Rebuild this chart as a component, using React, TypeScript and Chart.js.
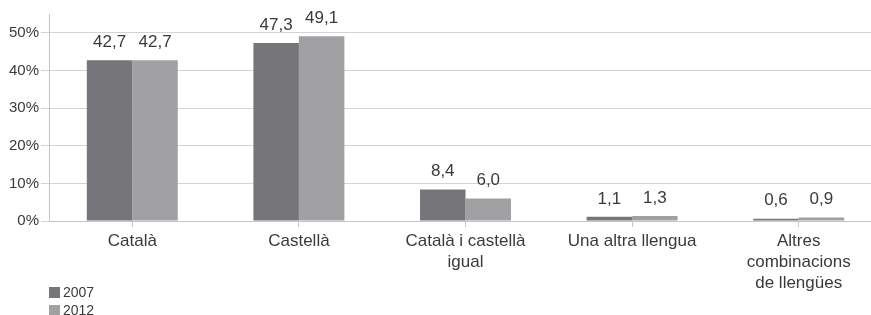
import React, { useEffect, useRef } from "react";
import { Chart, registerables } from "chart.js";

Chart.register(...registerables);

const categories: string[][] = [
  ["Català"],
  ["Castellà"],
  ["Català i castellà", "igual"],
  ["Una altra llengua"],
  ["Altres", "combinacions", "de llengües"],
];
const series2007: number[] = [42.7, 47.3, 8.4, 1.1, 0.6];
const series2012: number[] = [42.7, 49.1, 6.0, 1.3, 0.9];
const seriesNames: string[] = ["2007", "2012"];
const colors: string[] = ["#75757a", "#a1a1a4"];
const yTicks: number[] = [0, 10, 20, 30, 40, 50];

const FONT = "'Liberation Sans', Arial, sans-serif";
const TEXT = "#3a3a3a";

const labelPlugin = {
  id: "valueLabels",
  afterDatasetsDraw(chart: any) {
    const ctx = chart.ctx;
    ctx.save();
    ctx.font = `17px ${FONT}`;
    ctx.fillStyle = TEXT;
    ctx.textAlign = "center";
    ctx.textBaseline = "middle";
    chart.data.datasets.forEach((ds: any, di: number) => {
      const meta = chart.getDatasetMeta(di);
      meta.data.forEach((el: any, i: number) => {
        const v = ds.data[i] as number;
        ctx.fillText(v.toFixed(1).replace(".", ","), el.x, el.y - 18);
      });
    });
    ctx.restore();
  },
};

export default function App() {
  const ref = useRef<HTMLCanvasElement | null>(null);
  useEffect(() => {
    if (!ref.current) return;
    const chart = new Chart(ref.current, {
      type: "bar",
      data: {
        labels: categories,
        datasets: [
          { label: seriesNames[0], data: series2007, backgroundColor: colors[0] },
          { label: seriesNames[1], data: series2012, backgroundColor: colors[1] },
        ],
      },
      options: {
        animation: false,
        responsive: false,
        maintainAspectRatio: false,
        layout: { padding: { left: 0, right: 8, top: 14, bottom: 0 } },
        datasets: { bar: { categoryPercentage: 0.546, barPercentage: 1 } },
        plugins: {
          legend: { display: false },
          tooltip: { enabled: false },
        },
        scales: {
          x: {
            grid: {
              offset: false,
              drawOnChartArea: false,
              color: "#c4c4c4",
              tickLength: 6,
            },
            border: { color: "#c4c4c4" },
            ticks: {
              font: { family: FONT, size: 17, lineHeight: 21 / 17 },
              color: TEXT,
              padding: 4,
              maxRotation: 0,
              autoSkip: false,
            },
            afterFit(scale: any) {
              scale.height = 94;
            },
          },
          y: {
            min: 0,
            max: 55,
            ticks: {
              stepSize: 10,
              font: { family: FONT, size: 15 },
              color: TEXT,
              padding: 2,
              callback: (v: any) => `${v}%`,
            },
            afterBuildTicks(scale: any) {
              scale.ticks = yTicks.map((v) => ({ value: v }));
            },
            grid: { color: "#d4d4d4", tickLength: 8 },
            border: { color: "#c4c4c4" },
            afterFit(scale: any) {
              scale.width = 49;
            },
          },
        },
      },
      plugins: [labelPlugin],
    });
    return () => chart.destroy();
  }, []);

  return (
    <div
      style={{
        position: "fixed",
        left: 0,
        top: 0,
        width: 871,
        height: 315,
        overflow: "hidden",
        background: "#fff",
      }}
    >
      <canvas ref={ref} width={890} height={315} style={{ display: "block" }} />
      <div
        style={{
          position: "absolute",
          left: 49,
          top: 283,
          fontFamily: FONT,
          fontSize: 14,
          color: TEXT,
          lineHeight: "18px",
        }}
      >
        {seriesNames.map((n, i) => (
          <div key={n} style={{ display: "flex", alignItems: "center" }}>
            <span
              style={{
                display: "inline-block",
                width: 11,
                height: 11,
                background: colors[i],
                marginRight: 3,
              }}
            />
            {n}
          </div>
        ))}
      </div>
    </div>
  );
}
